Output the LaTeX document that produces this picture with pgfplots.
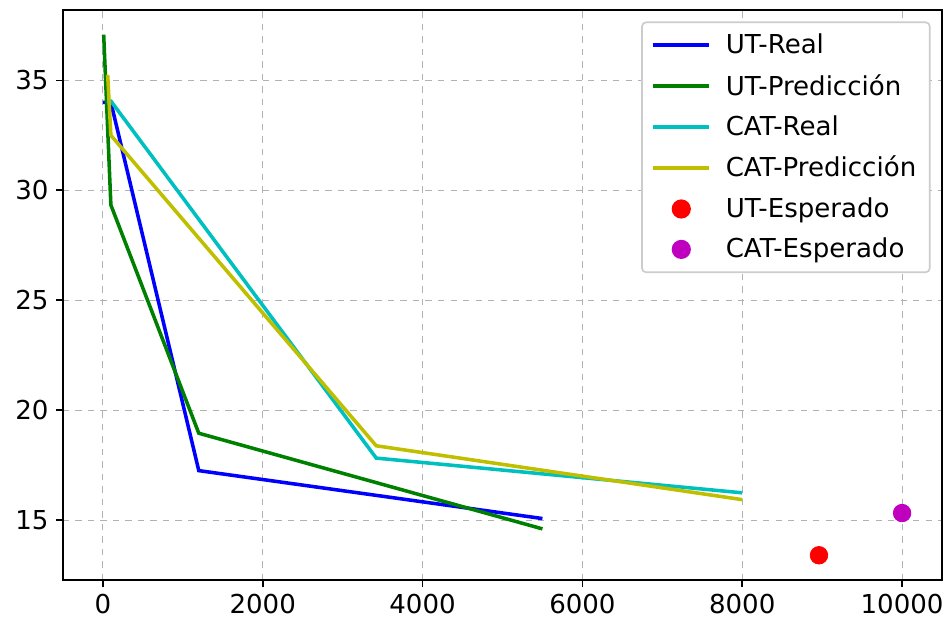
\documentclass[border=0pt]{standalone}
\usepackage{fontspec}
\setmainfont{DejaVu Sans}
\usepackage{pgfplots}
\pgfplotsset{compat=1.18}
\definecolor{mplc}{rgb}{0,0.75,0.75}
\definecolor{mply}{rgb}{0.75,0.75,0}
\definecolor{mplm}{rgb}{0.75,0,0.75}
\definecolor{mplg}{rgb}{0,0.5,0}
\begin{document}
\begin{tikzpicture}
\begin{axis}[
  scale only axis,
  width=421.9pt, height=273.6pt,
  xmin=-500, xmax=10500, ymin=12.27, ymax=38.2,
  xtick={0,2000,4000,6000,8000,10000},
  ytick={15,20,25,30,35},
  scaled x ticks=false,
  /pgf/number format/assume math mode=true,
  /pgf/number format/1000 sep={},
  tick label style={font=\fontsize{12.5}{15}\selectfont},
  tick align=outside,
  tick pos=left,
  major tick length=3.4pt,
  every tick/.style={black, line width=0.8pt},
  axis line style={line width=0.9pt},
  grid=major,
  major grid style={gray!60, dashed, line width=0.5pt},
  legend cell align=left,
  legend style={at={(1,1)}, anchor=north east, xshift=-5.5pt, yshift=-5.5pt,
    font=\fontsize{12.5}{15}\selectfont, draw=black!20, rounded corners=2pt,
    row sep=4.4pt, column sep=5pt, inner xsep=4.5pt, inner ysep=3.5pt, line width=0.8pt},
  legend image code/.code={\draw[#1] (0cm,0cm) -- (0.95cm,0cm);},
]
\addplot[blue, line width=1.7pt] coordinates {(0,34.0) (100,34.0) (1200,17.25) (5500,15.07)};
\addlegendentry{UT-Real}
\addplot[mplg, line width=1.7pt] coordinates {(10,37.08) (100,29.33) (1200,18.95) (5500,14.6)};
\addlegendentry{UT-Predicción}
\addplot[mplc, line width=1.7pt] coordinates {(50,34.06) (100,34.06) (3420,17.82) (8000,16.24)};
\addlegendentry{CAT-Real}
\addplot[mply, line width=1.7pt] coordinates {(60,35.25) (100,32.5) (3420,18.38) (8000,15.93)};
\addlegendentry{CAT-Predicción}
\addplot[only marks, mark=*, mark size=4.2pt, color=red, mark options={draw=none, fill=red}, legend image code/.code={\fill[red] (0.475cm,0cm) circle (4.2pt);}] coordinates {(8960,13.4)};
\addlegendentry{UT-Esperado}
\addplot[only marks, mark=*, mark size=4.2pt, color=mplm, mark options={draw=none, fill=mplm}, legend image code/.code={\fill[mplm] (0.475cm,0cm) circle (4.2pt);}] coordinates {(10000,15.32)};
\addlegendentry{CAT-Esperado}
\end{axis}
\pgfresetboundingbox
\path ([shift={(-30.2pt,-22.1pt)}]current axis.south west) rectangle ([shift={(1.9pt,4.8pt)}]current axis.north east);
\end{tikzpicture}
\end{document}
